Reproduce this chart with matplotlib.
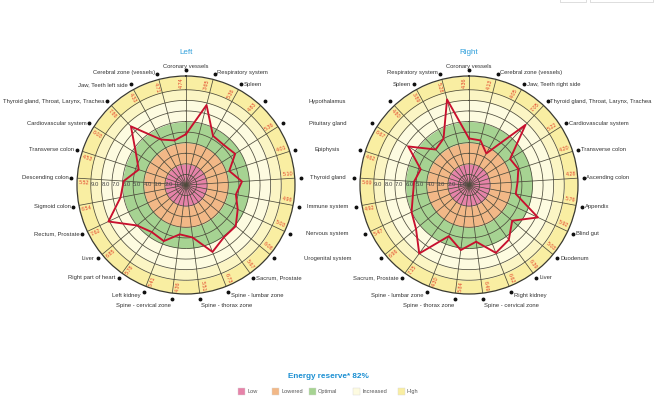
import numpy as np
import matplotlib.pyplot as plt
from matplotlib.patches import Rectangle

plt.rcParams['font.family'] = ['Liberation Sans', 'DejaVu Sans']

# ---------------- data ----------------
left_categories = [
    "Coronary vessels", "Respiratory system", "Spleen", "Hypothalamus", "Pituitary gland",
    "Epiphysis", "Thyroid gland", "Immune system", "Nervous system", "Urogenital system",
    "Sacrum, Prostate", "Spine - lumbar zone", "Spine - thorax zone", "Spine - cervical zone",
    "Left kidney", "Right part of heart", "Liver", "Rectum, Prostate", "Sigmoid colon",
    "Descending colon", "Transverse colon", "Cardiovascular system",
    "Thyroid gland, Throat, Larynx, Trachea", "Jaw, Teeth left side", "Cerebral zone (vessels)"]
left_values = [4.8, 7.8, 5.3, 5.2, 5.5, 4.3, 5.3, 4.8, 5.4, 6.1, 6.1, 6.8, 5.0, 4.7,
               5.7, 5.5, 6.0, 8.1, 6.3, 5.9, 4.7, 5.6, 7.6, 4.9, 4.35]
left_value_labels = ["4.74", "3.65", "5.36", "4.83", "5.36", "4.01", "5.10", "4.96", "5.03",
                     "6.06", "5.67", "6.73", "5.51", "4.36", "5.41", "5.78", "6.85", "7.62",
                     "6.54", "5.52", "4.53", "6.03", "7.86", "4.33", "4.71"]

right_categories = [
    "Coronary vessels", "Cerebral zone (vessels)", "Jaw, Teeth right side",
    "Thyroid gland, Throat, Larynx, Trachea", "Cardiovascular system", "Transverse colon",
    "Ascending colon", "Appendix", "Blind gut", "Duodenum", "Liver", "Right kidney",
    "Spine - cervical zone", "Spine - thorax zone", "Spine - lumbar zone", "Sacrum, Prostate",
    "Urogenital system", "Nervous system", "Immune system", "Thyroid gland", "Epiphysis",
    "Pituitary gland", "Hypothalamus", "Spleen", "Respiratory system"]
right_values = [4.4, 4.35, 3.4, 7.8, 4.6, 4.9, 4.6, 4.5, 7.2, 5.3, 6.4, 6.9, 5.4, 6.2,
                5.2, 8.0, 6.5, 6.0, 5.4, 5.2, 4.8, 6.8, 4.6, 5.0, 8.35]
right_value_labels = ["4.36", "4.13", "4.05", "7.05", "5.22", "4.20", "4.28", "5.76", "5.92",
                      "5.03", "6.39", "6.62", "6.49", "5.84", "4.30", "7.15", "6.96", "5.47",
                      "4.92", "5.69", "4.62", "6.67", "4.80", "3.89", "5.28"]

radial_ticks = [1, 2, 3, 4, 5, 6, 7, 8, 9]
band_edges = [0, 2, 4, 6, 8, 9, 10.3]
band_colors = ["#E683A9", "#F2B887", "#A6D392", "#FDFBE0", "#FBF5C4", "#F9EEA2"]

legend_names = ["Low", "Lowered", "Optimal", "Increased", "High"]
legend_colors = ["#E683A9", "#F2B887", "#A6D392", "#FDFBE0", "#F9EEA2"]

titles = ["Left", "Right"]
summary = "Energy reserve* 82%"

# ---------------- layout ----------------
W, H = 655, 400
fig = plt.figure(figsize=(W / 100, H / 100), dpi=100)
R_PX = 109
RMAX = 10.3
centers = [(186, 185), (469, 185)]
shared_left = range(3, 10)
shared_right = range(16, 23)

GRID = "#4d4b3c"
TXT = "#333333"
RED_LINE = "#C8102E"
RED_TXT = "#E2432C"


def make_ax(cx, cy):
    ax = fig.add_axes([(cx - R_PX) / W, (H - cy - R_PX) / H, 2 * R_PX / W, 2 * R_PX / H],
                      projection='polar')
    ax.set_theta_zero_location('N')
    ax.set_theta_direction(-1)
    ax.set_ylim(0, RMAX)
    ax.set_xticks([])
    ax.set_yticks([])
    ax.grid(False)
    ax.patch.set_alpha(0)
    ax.spines['polar'].set_color('#3a3a30')
    ax.spines['polar'].set_linewidth(0.9)
    return ax


def draw_chart(ax, cats, vals, vlabels, skip, title):
    n = len(cats)
    th = np.arange(n) * 2 * np.pi / n
    full = np.linspace(0, 2 * np.pi, 400)
    for lo, hi, c in zip(band_edges[:-1], band_edges[1:], band_colors):
        ax.fill_between(full, lo, hi, color=c, lw=0, zorder=1)
    for r in radial_ticks:
        ax.plot(full, np.full_like(full, r), color=GRID, lw=0.55, zorder=2)
    for t in th:
        ax.plot([t, t], [0, RMAX], color=GRID, lw=0.55, zorder=2)
    # radial tick labels along the left axis
    for r in radial_ticks:
        ax.text(np.deg2rad(270), r, f"{r:.1f}", ha='left', va='center', fontsize=4.3,
                color='#444444', zorder=3)
    # data polygon
    tt = np.append(th, th[0])
    vv = np.append(vals, vals[0])
    ax.plot(tt, vv, color=RED_LINE, lw=1.35, zorder=5)
    # value labels in outer band
    for t, lab in zip(th, vlabels):
        deg = np.rad2deg(t)
        phi = 90 - deg
        while phi > 90:
            phi -= 180
        while phi < -90:
            phi += 180
        ax.text(t - np.deg2rad(2.6), 9.65, lab, rotation=phi, rotation_mode='anchor',
                ha='center', va='center', fontsize=3.9, color=RED_TXT, zorder=4)
    # dots
    ax.plot(th, np.full(n, 10.85), 'o', color='#111111', ms=1.8, clip_on=False, zorder=6)
    # category labels
    for i, (t, name) in enumerate(zip(th, cats)):
        if i in skip:
            continue
        deg = np.rad2deg(t)
        s = np.sin(t)
        dy = 0.0
        if abs(s) < 0.05 and np.cos(t) > 0:
            ax.annotate(name, (t, 10.85), xytext=(0, 1.2), textcoords='offset points',
                        ha='center', va='bottom', fontsize=4.2, color=TXT,
                        annotation_clip=False)
            continue
        ha = 'left' if s > 0 else 'right'
        dx = 2.0 if s > 0 else -2.0
        if 165 < deg < 195:
            dy = -5.0
            dx = 0.3 if s > 0 else -0.3
        elif 150 < deg < 210:
            dy = -2.5
        elif deg < 20 or deg > 340:
            dy = 1.0
        ax.annotate(name, (t, 10.85), xytext=(dx, dy), textcoords='offset points',
                    ha=ha, va='center', fontsize=4.2, color=TXT, annotation_clip=False)
    ax.set_title(title, color='#2E9FDB', fontsize=5.8, pad=16)


axL = make_ax(*centers[0])
axR = make_ax(*centers[1])
draw_chart(axL, left_categories, left_values, left_value_labels, shared_left, titles[0])
draw_chart(axR, right_categories, right_values, right_value_labels, shared_right, titles[1])

# shared labels between the two charts
n = len(left_categories)
mid_x = (centers[0][0] + centers[1][0]) / 2 / W
for i in shared_left:
    t = i * 2 * np.pi / n
    px = axL.transData.transform((t, 10.85))
    fy = fig.transFigure.inverted().transform(px)[1]
    fig.text(mid_x, fy, left_categories[i], ha='center', va='center', fontsize=4.2, color=TXT)

# summary and legend
fig.text(328 / W, 1 - 377 / H, summary, ha='center', va='center', fontsize=5.9,
         fontweight='bold', color='#1B8FD2')
leg_x = [238, 272, 309, 353, 398]
for x, name, c in zip(leg_x, legend_names, legend_colors):
    fig.patches.append(Rectangle((x / W, 1 - 395 / H), 7 / W, 7 / H, transform=fig.transFigure,
                                 facecolor=c, edgecolor='#d8d8d8', lw=0.3))
    fig.text((x + 9) / W, 1 - 391.5 / H, name, ha='left', va='center', fontsize=4.1,
             color='#555555')

# faint UI boxes at top-right
fig.patches.append(Rectangle((560 / W, 1 - 2 / H), 26 / W, 4 / H, transform=fig.transFigure,
                             facecolor='none', edgecolor='#d0d0d0', lw=0.5))
fig.patches.append(Rectangle((590 / W, 1 - 2 / H), 63 / W, 4 / H, transform=fig.transFigure,
                             facecolor='none', edgecolor='#d0d0d0', lw=0.5))

fig.savefig('out.png', dpi=100, facecolor='white')
